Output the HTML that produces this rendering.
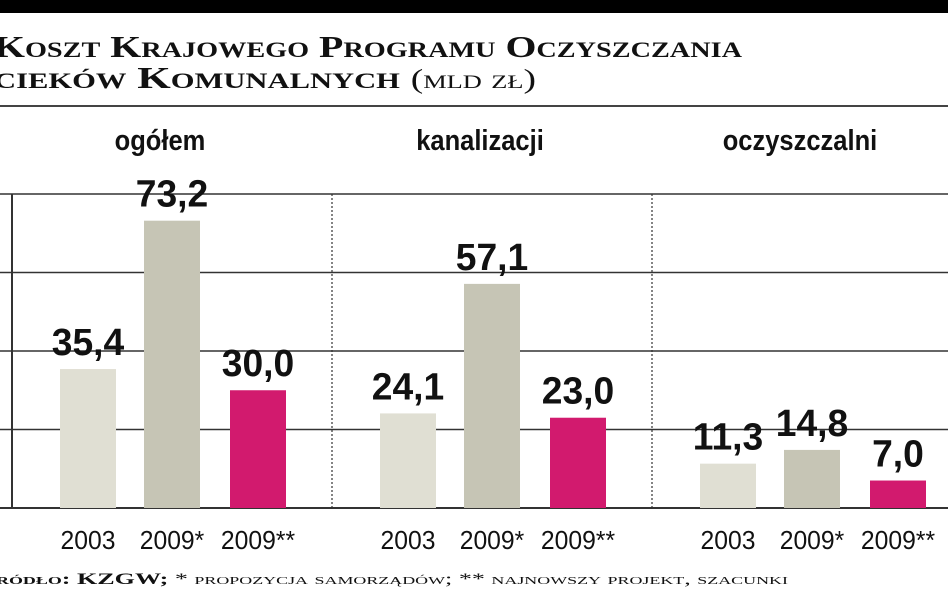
<!DOCTYPE html>
<html><head><meta charset="utf-8"><style>
body{margin:0;background:#fff;}
svg{display:block;}
.t{font-family:"Liberation Serif",serif;font-weight:bold;fill:#111;}
.c{font-family:"Liberation Sans",sans-serif;fill:#111;}
</style></head><body>
<svg width="948" height="593" viewBox="0 0 948 593">
<rect x="0" y="0" width="948" height="13" fill="#000"/>
<text class="t" x="-6" y="57" font-size="31" textLength="748" lengthAdjust="spacingAndGlyphs" style="font-variant:small-caps">Koszt Krajowego Programu Oczyszczania</text>
<text class="t" x="-6" y="88" font-size="31" textLength="542" lengthAdjust="spacingAndGlyphs" style="font-variant:small-caps">cieków Komunalnych <tspan font-weight="normal" font-size="27">(mld zł)</tspan></text>
<line x1="0" y1="106" x2="948" y2="106" stroke="#444" stroke-width="2"/>
<g id="grid"></g>
<g id="bars"></g>
<text class="t" x="-4" y="584" font-size="16" textLength="792" lengthAdjust="spacingAndGlyphs" style="font-variant:small-caps">ródło: KZGW; <tspan font-weight="normal">* propozycja samorządów; ** najnowszy projekt, szacunki</tspan></text>
</svg>
<script>
const groups=["ogółem","kanalizacji","oczyszczalni"];
const years=["2003","2009*","2009**"];
const v2003=[35.4,24.1,11.3];
const v2009a=[73.2,57.1,14.8];
const v2009b=[30.0,23.0,7.0];
const ticks=[0,20,40,60,80];
const NS="http://www.w3.org/2000/svg";
const y0=508,y1=194,max=80;
const y=v=>y0-(v/max)*(y0-y1);
const groupX=[12,332,652], gw=320;
const barOff=[48,132,218], bw=56;
const colors=["#e0dfd3","#c6c5b5","#d21a6e"];
const series=[v2003,v2009a,v2009b];
function el(t,a,p){const e=document.createElementNS(NS,t);for(const k in a)e.setAttribute(k,a[k]);p.appendChild(e);return e;}
const grid=document.getElementById('grid'),bars=document.getElementById('bars');
ticks.forEach(t=>{
 const l=el('line',{x1:0,x2:948,y1:y(t),y2:y(t),stroke:'#333','stroke-width':t===0?2:1.5},grid);
 
 
});
const ax=el('line',{x1:12,x2:12,y1:y1,y2:y0,stroke:'#333','stroke-width':2},grid);


[1,2].forEach(i=>{
 const d=el('line',{x1:groupX[i],x2:groupX[i],y1:y1,y2:y0,stroke:'#333','stroke-width':1.2,'stroke-dasharray':'2,2'},grid);
 
 
});
groups.forEach((g,gi)=>{
 const gx=groupX[gi]+gw/2-12;
 const gt=el('text',{x:gx,y:150,'text-anchor':'middle','font-size':29,'font-weight':'bold',class:'c',transform:`translate(${gx},0) scale(0.88,1) translate(${-gx},0)`},bars);
 gt.textContent=g;
 
 
 series.forEach((s,si)=>{
  const x=groupX[gi]+barOff[si];
  const r=el('rect',{x:x,y:y(s[gi]),width:bw,height:y0-y(s[gi]),fill:colors[si]},bars);
  
  
  const cx=x+bw/2;
  const vt=el('text',{x:cx,y:y(s[gi])-14,'text-anchor':'middle','font-size':38,'font-weight':'bold',class:'c',transform:`translate(${cx},0) scale(0.98,1) translate(${-cx},0)`},bars);
  vt.textContent=s[gi].toFixed(1).replace('.',',');
  
  
  const yt=el('text',{x:cx,y:549,'text-anchor':'middle','font-size':26,class:'c',fill:'#333',transform:`translate(${cx},0) scale(0.95,1) translate(${-cx},0)`},bars);
  yt.textContent=years[si];
  
  
 });
});
</script>
</body></html>
